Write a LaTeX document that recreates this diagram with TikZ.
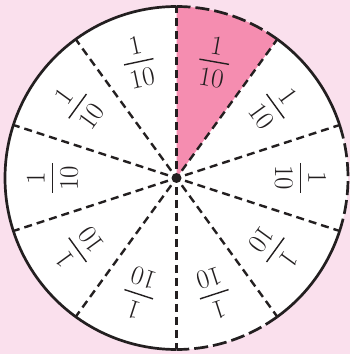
\documentclass[tikz,border=0pt]{standalone}
\usetikzlibrary{calc}
\definecolor{bgpink}{RGB}{250,224,237}
\definecolor{secpink}{RGB}{245,141,176}
\definecolor{ink}{RGB}{35,31,32}
\newcommand\onetenth{\vbox{\offinterlineskip\halign{\hfil##\hfil\cr 1\cr\noalign{\kern 7pt}\rule{30pt}{1.4pt}\cr\noalign{\kern 7pt}10\cr}}}
\begin{document}
\begin{tikzpicture}[x=1pt,y=1pt,
  radial/.style={ink,line width=2.4pt,dash pattern=on 8pt off 5pt,shorten <=9pt},
  rim/.style={ink,line width=2.7pt},
  rimdash/.style={ink,line width=2.7pt,dash pattern=on 14pt off 5pt},
  frac/.style={text=ink,font=\fontsize{27}{30}\selectfont,inner sep=0pt}]
\fill[bgpink] (0,0) rectangle (350,354);
\useasboundingbox (0,0) rectangle (350,354);
\coordinate (c) at (176.5,176);
\foreach \a in {90,54,18,-18,-54,-90,-126,-162,162,126}
  \coordinate (p\a) at ($(c)+(\a:171.5)$);
\fill[white] (c) circle (171.5);
\fill[secpink] (c) -- (p90) arc (90:54:171.5) -- cycle;
% radial dashed lines
\foreach \a in {90,54,18,-18,-54,-90,-126,-162,162,126}
  \draw[radial] (c) -- (p\a);
% rim
\draw[rim] (p54) arc (54:18:171.5);
\draw[rim] (p-18) arc (-18:-54:171.5);
\draw[rim] (p90) arc (90:270:171.5);
\draw[rimdash] (p90) arc (90:54:171.5);
\draw[rimdash] (p18) arc (18:-18:171.5);
\draw[rimdash] (p-54) arc (-54:-90:171.5);
\fill[ink] (c) circle (5);
% labels
\node[frac,rotate=-10] (l72) at ($(c)+(72:122)$) {\onetenth};
\node[frac,rotate=12] (l108) at ($(c)+(108:122)$) {\onetenth};
\node[frac,rotate=54] (l144) at ($(c)+(144:122)$) {\onetenth};
\node[frac,rotate=90] (l180) at ($(c)+(180:124)$) {\onetenth};
\node[frac,rotate=126] (l216) at ($(c)+(216:122)$) {\onetenth};
\node[frac,rotate=162] (l252) at ($(c)+(252:122)$) {\onetenth};
\node[frac,rotate=198] (l288) at ($(c)+(288:122)$) {\onetenth};
\node[frac,rotate=234] (l324) at ($(c)+(324:122)$) {\onetenth};
\node[frac,rotate=270] (l0) at ($(c)+(0:124)$) {\onetenth};
\node[frac,rotate=-54] (l36) at ($(c)+(36:122)$) {\onetenth};
\end{tikzpicture}
\end{document}
